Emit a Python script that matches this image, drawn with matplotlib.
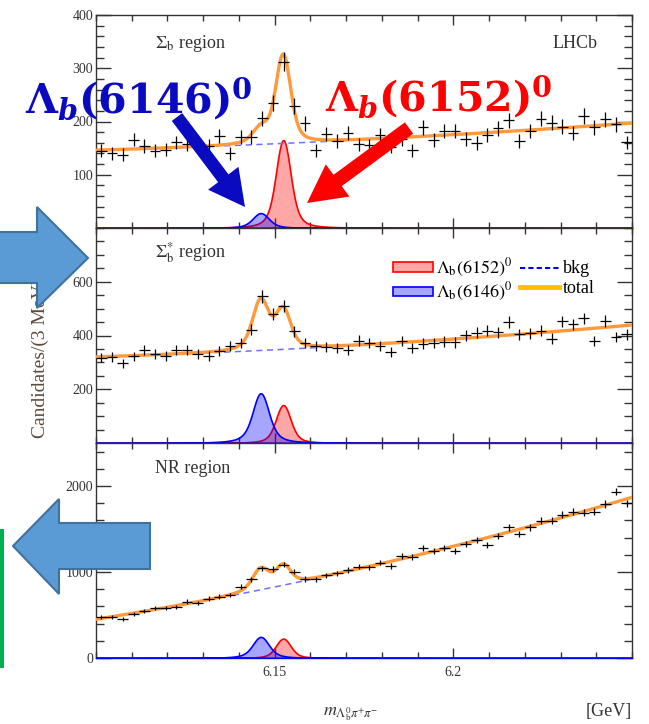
import numpy as np
import matplotlib
matplotlib.use("Agg")
import matplotlib.pyplot as plt
from matplotlib.patches import Polygon, Patch, Rectangle
from matplotlib.lines import Line2D
from matplotlib.ticker import FixedLocator, MultipleLocator, FuncFormatter

plt.rcParams['font.family'] = ['Liberation Serif', 'DejaVu Serif']
plt.rcParams['mathtext.fontset'] = 'stix'
plt.rcParams['mathtext.rm'] = 'DejaVu Serif:bold'
plt.rcParams['mathtext.it'] = 'DejaVu Serif:italic:bold'
plt.rcParams['mathtext.bf'] = 'DejaVu Serif:bold'

# ---------------- data ----------------
mass_lo, mass_hi, bin_width = 6.10, 6.25, 0.003
bin_centers = np.arange(mass_lo + bin_width / 2, mass_hi - 1e-9, bin_width)

counts_sigma_b = [145, 140, 138, 166, 154, 145, 147, 161, 158, 155,
                  154, 173, 140, 171, 171, 206, 235, 312, 229, 197,
                  146, 176, 163, 179, 157, 155, 174, 153, 167, 146,
                  189, 165, 182, 182, 167, 160, 174, 187, 202, 163,
                  182, 205, 198, 190, 179, 210, 189, 204, 195, 161]
counts_sigma_b_star = [318, 321, 297, 322, 347, 331, 324, 347, 347, 331,
                       325, 341, 360, 373, 421, 546, 481, 509, 415, 372,
                       362, 358, 352, 347, 381, 371, 360, 337, 380, 352,
                       370, 371, 377, 374, 401, 410, 418, 412, 450, 405,
                       408, 418, 388, 453, 441, 464, 380, 454, 394, 405]
counts_nr = [480, 476, 453, 515, 543, 578, 578, 597, 655, 636,
             690, 713, 733, 829, 915, 1043, 1037, 1087, 1004, 918,
             915, 960, 985, 1023, 1062, 1054, 1109, 1070, 1190, 1178,
             1275, 1248, 1275, 1248, 1326, 1372, 1314, 1419, 1519, 1442,
             1519, 1597, 1597, 1663, 1702, 1690, 1702, 1791, 1934, 1799]

# fit model parameters
mass_6146, gamma_6146 = 6.1461, 0.0029
mass_6152, gamma_6152 = 6.1524, 0.0021
resolution = 0.0016
peak_6152 = [165, 141, 225]
peak_6146 = [28, 185, 245]
bkg_mass = [6.10, 6.175, 6.25]
bkg_sigma_b = [146, 166, 197]
bkg_sigma_b_star = [320, 365, 439]
bkg_nr = [450, 1050, 1868]

region_labels = [r'$\Sigma_{\mathrm{b}}$ region', r'$\Sigma_{\mathrm{b}}^{*}$ region', 'NR region']
ylims = [400, 800, 2500]
y_major = [[100, 200, 300, 400], [200, 400, 600], [0, 1000, 2000]]
y_minor = [20, 50, 200]
x_major = [6.15, 6.20]

# ---------------- figure ----------------
W, H = 649, 724
fig = plt.figure(figsize=(W / 100, H / 100), dpi=100)

def fig_rect(x0, y0, x1, y1):
    return [x0 / W, 1 - y1 / H, (x1 - x0) / W, (y1 - y0) / H]

panel_px = [(15, 228), (228, 443), (443, 658)]
axes = [fig.add_axes(fig_rect(96, t, 632, b)) for t, b in panel_px]

fine = np.linspace(mass_lo, mass_hi, 1501)
dx = fine[1] - fine[0]

def line_shape(m0, gamma):
    bw = 1.0 / ((fine - m0) ** 2 + (gamma / 2) ** 2)
    k = np.arange(-80, 81) * dx
    g = np.exp(-0.5 * (k / resolution) ** 2)
    v = np.convolve(bw, g, mode='same')
    return v / v.max()

shape_6152 = line_shape(mass_6152, gamma_6152)
shape_6146 = line_shape(mass_6146, gamma_6146)

all_counts = [counts_sigma_b, counts_sigma_b_star, counts_nr]
all_bkg = [bkg_sigma_b, bkg_sigma_b_star, bkg_nr]

for i, ax in enumerate(axes):
    counts = np.array(all_counts[i], dtype=float)
    bkg = np.polyval(np.polyfit(bkg_mass, all_bkg[i], 2), fine)
    s52 = peak_6152[i] * shape_6152
    s46 = peak_6146[i] * shape_6146
    ax.fill_between(fine, 0, s52, facecolor=(1, 0, 0, 0.35), edgecolor='#ff0000', lw=1.2, zorder=2)
    ax.fill_between(fine, 0, s46, facecolor=(0, 0, 1, 0.35), edgecolor='#0000ff', lw=1.2, zorder=3)
    ax.plot(fine, bkg, ls=(0, (4, 3)), color='#6f6fff', lw=1.1, zorder=4)
    ax.plot(fine, bkg + s52 + s46, color='#ff9a3c', lw=2.4, zorder=5)
    ax.errorbar(bin_centers, counts, xerr=bin_width / 2, yerr=np.sqrt(counts),
                fmt='none', ecolor='black', elinewidth=0.9, zorder=6)
    ax.set_xlim(mass_lo, mass_hi)
    ax.set_ylim(0, ylims[i])
    ax.xaxis.set_major_locator(FixedLocator(x_major))
    ax.xaxis.set_minor_locator(MultipleLocator(0.01))
    ax.yaxis.set_major_locator(FixedLocator(y_major[i]))
    ax.yaxis.set_minor_locator(MultipleLocator(y_minor[i]))
    ax.xaxis.set_major_formatter(FuncFormatter(lambda v, p: '%g' % v))
    ax.tick_params(which='both', direction='in', top=True, right=True,
                   colors='#333333', labelsize=10, width=1.0)
    ax.tick_params(axis='x', which='major', length=7, pad=6)
    ax.tick_params(axis='x', which='minor', length=4)
    ax.tick_params(axis='y', which='major', length=11, pad=2)
    ax.tick_params(axis='y', which='minor', length=6)
    for sp in ax.spines.values():
        sp.set_color('#333333')
        sp.set_linewidth(1.0)
    if i < 2:
        ax.tick_params(axis='x', labelbottom=False)

# legend in the middle panel
leg_handles = [Patch(facecolor=(1, 0, 0, 0.35), edgecolor='#ff0000', lw=1.2),
               Patch(facecolor=(0, 0, 1, 0.35), edgecolor='#0000ff', lw=1.2),
               Line2D([], [], color='#0000ff', ls=(0, (2.5, 1.5)), lw=1.5),
               Line2D([], [], color='#ffbf00', lw=3.5)]
leg_labels = [r'$\Lambda_{\mathrm{b}}(6152)^{0}$', r'$\Lambda_{\mathrm{b}}(6146)^{0}$', 'bkg', 'total']
axes[1].legend(leg_handles, leg_labels, ncol=2, loc='upper left',
               bbox_to_anchor=(393 / W, 1 - 257 / H), bbox_transform=fig.transFigure,
               frameon=False, fontsize=13, handlelength=2.2, handleheight=0.45,
               handletextpad=0.2, columnspacing=0.4, labelspacing=0.12,
               borderpad=0, borderaxespad=0)

# ---------------- overlay (pixel coordinates) ----------------
ov = fig.add_axes([0, 0, 1, 1])
ov.set_xlim(0, W)
ov.set_ylim(H, 0)
ov.axis('off')
ov.set_zorder(10)
ov.patch.set_alpha(0)

txt_col = '#333333'
ov.text(155, 48, region_labels[0], fontsize=13, color=txt_col, va='baseline', ha='left')
ov.text(155, 258, region_labels[1], fontsize=13, color=txt_col, va='baseline', ha='left')
ov.text(155, 473, region_labels[2], fontsize=13, color=txt_col, va='baseline', ha='left')
ov.text(598, 48, 'LHCb', fontsize=13, color=txt_col, va='baseline', ha='right')
ov.text(323, 716, r'$m_{\Lambda_{\mathrm{b}}^{0}\pi^{+}\pi^{-}}$', fontsize=13, color=txt_col,
        va='baseline', ha='left')
ov.text(632, 716, '[GeV]', fontsize=13, color=txt_col, va='baseline', ha='right')
ov.text(40, 438, 'Candidates/(3 MeV)', fontsize=14, color='#5c4b3c', rotation=90,
        ha='center', va='bottom', zorder=1)


def arrow_poly(start, tip, shaft_w, head_w, head_len):
    s = np.array(start, float)
    t = np.array(tip, float)
    d = (t - s) / np.linalg.norm(t - s)
    n = np.array([-d[1], d[0]])
    b = t - d * head_len
    return [s + n * shaft_w / 2, b + n * shaft_w / 2, b + n * head_w / 2, t,
            b - n * head_w / 2, b - n * shaft_w / 2, s - n * shaft_w / 2]

blue_ann = '#0a0ac0'
red_ann = '#ff0000'
ov.add_patch(Polygon(arrow_poly((177, 117), (245, 207), 13, 38, 36), closed=True,
                     facecolor=blue_ann, edgecolor='none', zorder=3))
ov.add_patch(Polygon(arrow_poly((409, 128), (307, 203), 14, 40, 38), closed=True,
                     facecolor=red_ann, edgecolor='none', zorder=3))
ov.text(25, 113, r'$\Lambda_{b}(6146)^{0}$', math_fontfamily='custom', fontsize=29.5,
        color=blue_ann, va='baseline', ha='left', zorder=4)
ov.text(325, 111, r'$\Lambda_{b}(6152)^{0}$', math_fontfamily='custom', fontsize=29.5,
        color=red_ann, va='baseline', ha='left', zorder=4)

block_fc, block_ec = '#5b9bd5', '#41719c'
ov.add_patch(Polygon([(-3, 232), (37, 232), (37, 207), (88, 258), (37, 308), (37, 283), (-3, 283)],
                     closed=True, facecolor=block_fc, edgecolor=block_ec, lw=1.5, zorder=3))
ov.add_patch(Polygon([(13, 546), (59, 499), (59, 523), (150, 523), (150, 569), (59, 569), (59, 594)],
                     closed=True, facecolor=block_fc, edgecolor=block_ec, lw=1.5, zorder=3))
ov.add_patch(Rectangle((0, 529), 4, 139, facecolor='#00b050', edgecolor='none', zorder=3))

fig.savefig('out.png', dpi=100)
